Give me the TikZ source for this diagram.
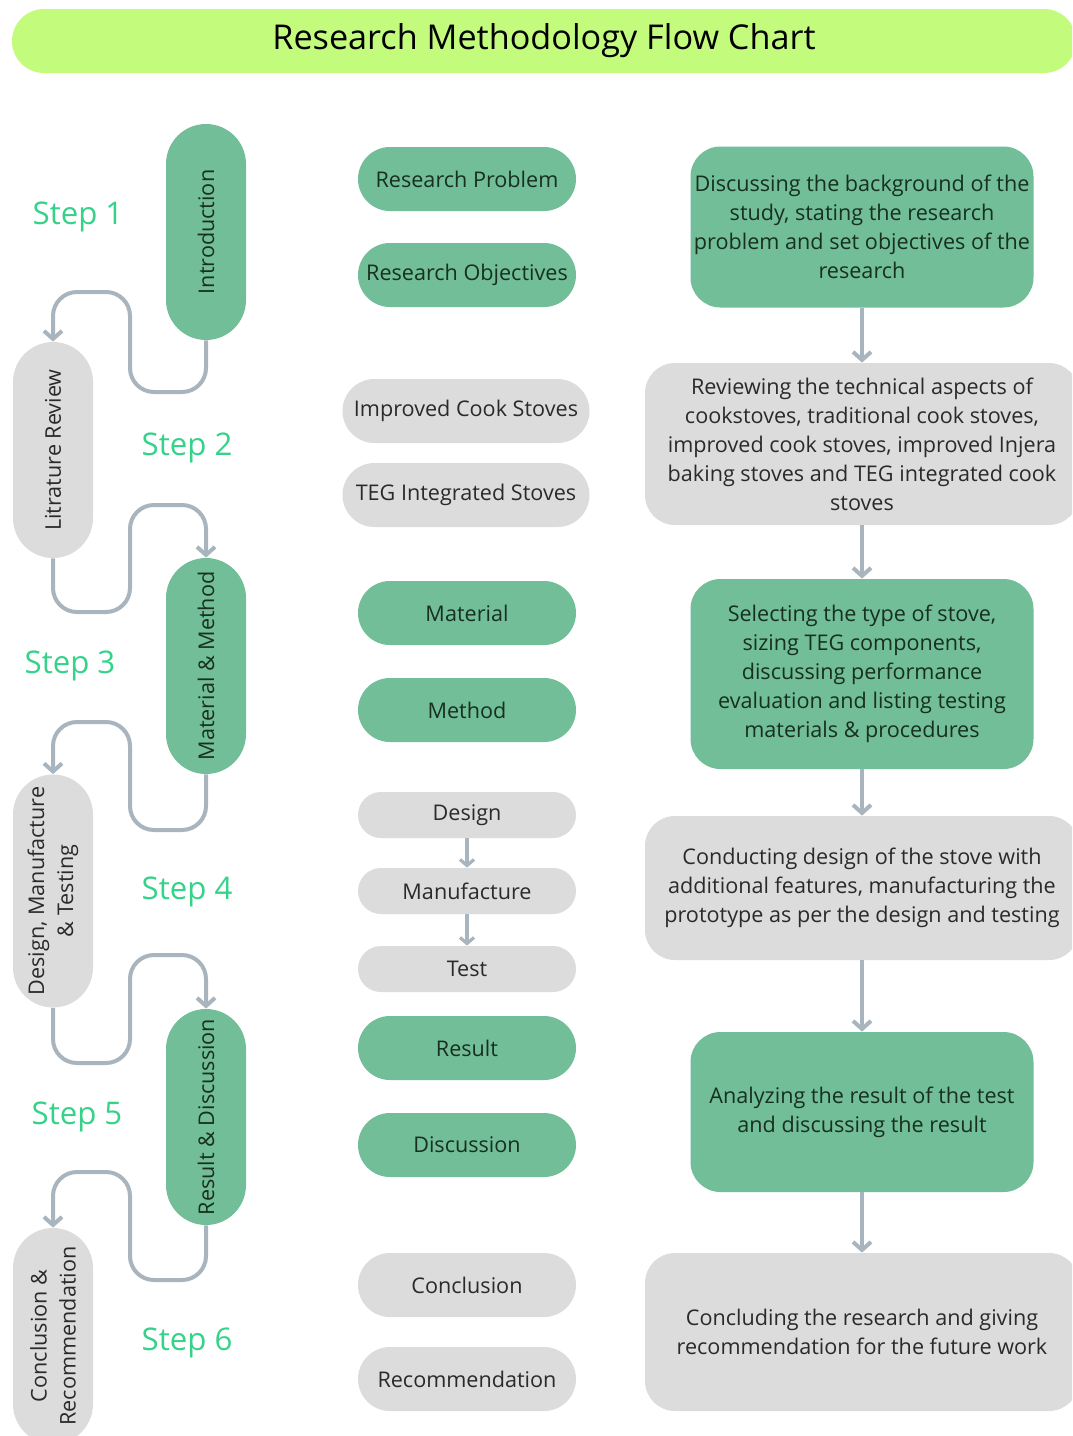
\documentclass[tikz,border=0pt]{standalone}
\usepackage{fontspec}
\setmainfont{Open Sans}
\usetikzlibrary{arrows.meta}

\definecolor{leaf}{HTML}{C3FB7C}
\definecolor{sage}{HTML}{72BE98}
\definecolor{mist}{HTML}{DCDCDC}
\definecolor{mint}{HTML}{36D28A}
\definecolor{wire}{HTML}{A8B5BE}
\definecolor{ink}{HTML}{17301F}
\definecolor{graphite}{HTML}{2A2A2A}

\tikzset{
  txt/.style={font=\fontsize{10.8}{14.5}\selectfont, inner sep=0pt, align=center},
  greenpill/.style={txt, fill=sage, text=ink, rounded corners=16pt, minimum width=109pt, minimum height=32pt},
  graypill/.style={txt, fill=mist, text=graphite, rounded corners=16pt, minimum width=109pt, minimum height=32pt},
  slimpill/.style={graypill, rounded corners=11.5pt, minimum height=23pt},
  greenbar/.style={txt, fill=sage, text=ink, rotate=90, rounded corners=20pt, minimum width=108pt, minimum height=40pt},
  graybar/.style={txt, fill=mist, text=graphite, rotate=90, rounded corners=20pt, minimum width=108pt, minimum height=40pt},
  greenbox/.style={txt, fill=sage, text=ink, rounded corners=15pt, minimum width=171.5pt},
  graybox/.style={txt, fill=mist, text=graphite, rounded corners=15pt, minimum width=217pt},
  steplabel/.style={font=\fontsize{15.6}{17}\selectfont, text=mint, inner sep=0pt},
  link/.style={draw=wire, line width=2pt, rounded corners=12pt, -{Straight Barb[length=4pt,width=9pt]}},
  shortlink/.style={draw=wire, line width=1.6pt, -{Straight Barb[length=3pt,width=7pt]}}
}

\begin{document}
\begin{tikzpicture}[x=0.5pt,y=-0.5pt]
\clip (0,0) rectangle (1072,1436);
\fill[white] (0,0) rectangle (1072,1436);

\node[txt, fill=leaf, text=black, rounded corners=16pt, minimum width=532pt, minimum height=32pt,
  font=\fontsize{17.1}{19}\selectfont] (title) at (544,41) {Research Methodology Flow Chart};

\node[greenbar] (intro) at (206,232) {Introduction};
\node[graybar] (litrev) at (53,450) {Litrature Review};
\node[greenbar] (matmeth) at (206,666) {Material \& Method};
\node[graybar, minimum width=116.5pt] (dmt) at (53,891) {Design, Manufacture\\\& Testing};
\node[greenbar] (resdisc) at (206,1117) {Result \& Discussion};
\node[graybar] (concrec) at (53,1336) {Conclusion \&\\Recommendation};

\node[steplabel] (s1) at (78,217) {Step 1};
\node[steplabel] (s2) at (187,448) {Step 2};
\node[steplabel] (s3) at (70,666) {Step 3};
\node[steplabel] (s4) at (187,892) {Step 4};
\node[steplabel] (s5) at (77,1117) {Step 5};
\node[steplabel] (s6) at (187,1343) {Step 6};

\draw[link] (intro.west) |- (130,392) -- (130,292) -| (litrev.east);
\draw[link] (litrev.west) |- (130,612) -- (130,505) -| (matmeth.east);
\draw[link] (matmeth.west) |- (130,830) -- (130,722) -| (dmt.east);
\draw[link] (dmt.west) |- (130,1063) -- (130,955) -| (resdisc.east);
\draw[link] (resdisc.west) |- (130,1280) -- (130,1172) -| (concrec.east);

\node[greenpill] (rp) at (467,179) {Research Problem};
\node[greenpill] (ro) at (467,275) {Research Objectives};
\node[graypill, minimum width=123.5pt] (ics) at (466,411) {Improved Cook Stoves};
\node[graypill, minimum width=123.5pt] (teg) at (466,495) {TEG Integrated Stoves};
\node[greenpill] (mat) at (467,613) {Material};
\node[greenpill] (met) at (467,710) {Method};
\node[slimpill] (des) at (467,815) {Design};
\node[slimpill] (man) at (467,891) {Manufacture};
\node[slimpill] (tst) at (467,969) {Test};
\node[greenpill] (res) at (467,1048) {Result};
\node[greenpill] (dis) at (467,1145) {Discussion};
\node[graypill] (con) at (467,1285) {Conclusion};
\node[graypill] (rec) at (467,1379) {Recommendation};

\draw[shortlink] (des.south) -- (man.north);
\draw[shortlink] (man.south) -- (tst.north);

\node[greenbox, minimum height=80.5pt] (d1) at (862,227) {Discussing the background of the\\study, stating the research\\problem and set objectives of the\\research};
\node[graybox, minimum height=81pt] (d2) at (862,444) {Reviewing the technical aspects of\\cookstoves, traditional cook stoves,\\improved cook stoves, improved Injera\\baking stoves and TEG integrated cook\\stoves};
\node[greenbox, minimum height=95pt] (d3) at (862,674) {Selecting the type of stove,\\sizing TEG components,\\discussing performance\\evaluation and listing testing\\materials \& procedures};
\node[graybox, minimum height=72pt] (d4) at (862,888) {Conducting design of the stove with\\additional features, manufacturing the\\prototype as per the design and testing};
\node[greenbox, minimum height=80pt] (d5) at (862,1112) {Analyzing the result of the test\\and discussing the result};
\node[graybox, minimum height=79pt] (d6) at (862,1332) {Concluding the research and giving\\recommendation for the future work};

\draw[link] (d1.south) -- (d2.north);
\draw[link] (d2.south) -- (d3.north);
\draw[link] (d3.south) -- (d4.north);
\draw[link] (d4.south) -- (d5.north);
\draw[link] (d5.south) -- (d6.north);
\end{tikzpicture}
\end{document}
